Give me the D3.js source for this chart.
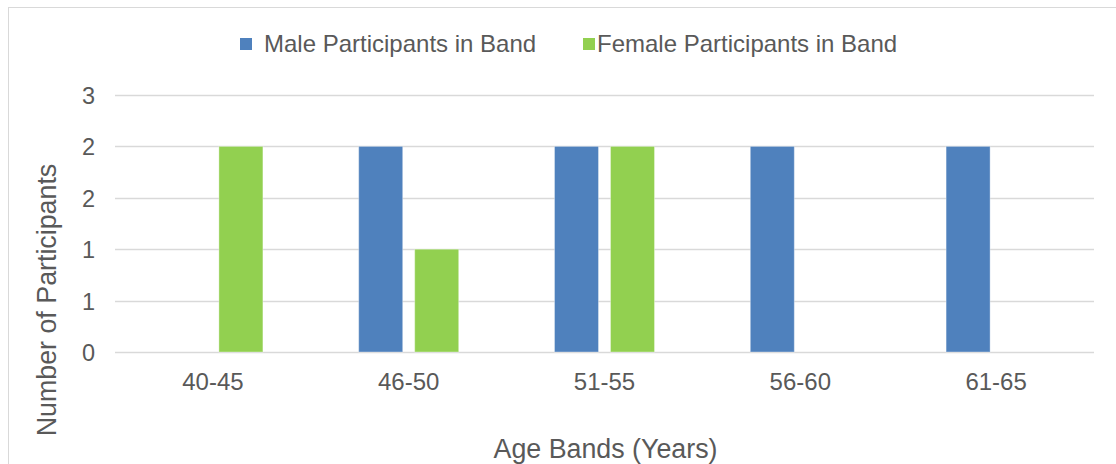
<!DOCTYPE html>
<html>
<head>
<meta charset="utf-8">
<script src="https://cdn.jsdelivr.net/npm/d3@7"></script>
<style>
  html, body { margin: 0; padding: 0; background: #fff; }
  svg { display: block; font-family: "Liberation Sans", Arial, sans-serif; }
</style>
</head>
<body>
<svg id="chart" width="1116" height="464"></svg>
<script>
// Age bands and participant counts per band
const categories = ["40-45", "46-50", "51-55", "56-60", "61-65"];
const seriesNames = ["Male Participants in Band", "Female Participants in Band"];
const maleValues = [0, 2, 2, 2, 2];
const femaleValues = [2, 1, 2, 0, 0];
// Gridline positions and the labels shown beside them (0.5 steps, rounded for display)
const yTickValues = [0, 0.5, 1, 1.5, 2, 2.5];
const yTickLabels = ["0", "1", "1", "2", "2", "3"];

const colors = ["#4F81BD", "#92D050"];
const textColor = "#595959";
const gridColor = "#D9D9D9";

const svg = d3.select("#chart");
const W = 1116, H = 464;
const plot = { left: 115, right: 1094, top: 95, bottom: 352 };

// Chart frame
svg.append("rect")
  .attr("x", 8.5).attr("y", 7.5)
  .attr("width", W + 10).attr("height", H + 10)
  .attr("fill", "none").attr("stroke", "#D9D9D9").attr("stroke-width", 1);

const x0 = d3.scaleBand().domain(categories).range([plot.left, plot.right]).paddingInner(0).paddingOuter(0);
const groupWidth = 100;
const x1 = d3.scaleBand().domain(seriesNames).range([0, groupWidth]).paddingInner(12 / 56).paddingOuter(0);
const y = d3.scaleLinear().domain([0, 2.5]).range([plot.bottom, plot.top]);

// Horizontal gridlines
svg.append("g").selectAll("line")
  .data(yTickValues)
  .join("line")
  .attr("x1", plot.left).attr("x2", plot.right)
  .attr("y1", d => Math.round(y(d)) + 0.5).attr("y2", d => Math.round(y(d)) + 0.5)
  .attr("stroke", gridColor).attr("stroke-width", 1.3);

// Y axis labels
const yAxis = d3.axisLeft(y)
  .tickValues(yTickValues)
  .tickFormat((d, i) => yTickLabels[i])
  .tickSize(0).tickPadding(0);
const gy = svg.append("g").attr("transform", `translate(95,0)`).call(yAxis);
gy.select(".domain").remove();
gy.selectAll("text")
  .attr("fill", textColor)
  .attr("font-size", 23.5)
  .attr("font-family", "Liberation Sans, Arial, sans-serif")
  .attr("dy", "0.36em");

// Bars
const data = categories.map((c, i) => ({ cat: c, vals: [maleValues[i], femaleValues[i]] }));
const groups = svg.append("g").selectAll("g")
  .data(data)
  .join("g")
  .attr("transform", d => `translate(${x0(d.cat) + (x0.bandwidth() - groupWidth) / 2},0)`);
groups.selectAll("rect")
  .data(d => d.vals.map((v, j) => ({ name: seriesNames[j], v, j })).filter(e => e.v > 0))
  .join("rect")
  .attr("x", e => x1(e.name))
  .attr("width", x1.bandwidth())
  .attr("y", e => y(e.v))
  .attr("height", e => y(0) - y(e.v))
  .attr("fill", e => colors[e.j])
  .attr("stroke", "#fff").attr("stroke-opacity", 0.35).attr("stroke-width", 1);

// X axis labels
const xAxis = d3.axisBottom(x0).tickSize(0).tickPadding(0);
const gx = svg.append("g").attr("transform", `translate(0,${plot.bottom})`).call(xAxis);
gx.select(".domain").remove();
gx.selectAll("text")
  .attr("fill", textColor)
  .attr("font-size", 24)
  .attr("font-family", "Liberation Sans, Arial, sans-serif")
  .attr("dy", null)
  .attr("y", 38);

// Axis titles
svg.append("text")
  .attr("x", (plot.left + plot.right) / 2 + 1).attr("y", 458)
  .attr("text-anchor", "middle")
  .attr("fill", textColor).attr("font-size", 26.8)
  .text("Age Bands (Years)");

svg.append("text")
  .attr("transform", "translate(56,300) rotate(-90)")
  .attr("text-anchor", "middle")
  .attr("fill", textColor).attr("font-size", 26.8)
  .text("Number of Participants");

// Legend
const legendItems = [
  { name: seriesNames[0], color: colors[0], sx: 240, tx: 264 },
  { name: seriesNames[1], color: colors[1], sx: 583, tx: 597 }
];
const lg = svg.append("g");
lg.selectAll("rect")
  .data(legendItems)
  .join("rect")
  .attr("x", d => d.sx).attr("y", 38)
  .attr("width", 12).attr("height", 12)
  .attr("fill", d => d.color);
lg.selectAll("text")
  .data(legendItems)
  .join("text")
  .attr("x", d => d.tx).attr("y", 52)
  .attr("fill", textColor).attr("font-size", 24)
  .text(d => d.name);
</script>
</body>
</html>
